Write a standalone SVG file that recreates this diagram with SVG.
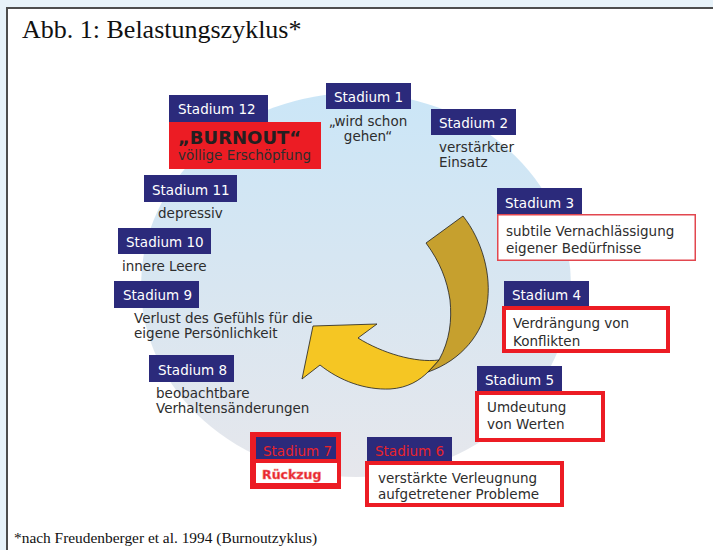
<svg xmlns="http://www.w3.org/2000/svg" width="713" height="550" viewBox="0 0 713 550">
<defs>
<linearGradient id="bgcirc" x1="0" y1="0" x2="0" y2="1">
<stop offset="0" stop-color="#cbe6f7"/>
<stop offset="0.5" stop-color="#d8e6f1"/>
<stop offset="1" stop-color="#e6e7ec"/>
</linearGradient>
</defs>
<style>
.lbl{fill:#2b2a7b}
.lt{font-family:"DejaVu Sans",Verdana,sans-serif;font-size:13.5px;fill:#ffffff}
.lt.red{fill:#e8232b}
.tx{font-family:"DejaVu Sans",Verdana,sans-serif;font-size:13.5px;fill:#2d2d2d}
.box{fill:#ffffff;stroke:#ec1c24;stroke-width:4}
.serif{font-family:"Liberation Serif","Times New Roman",serif;fill:#111111}
</style>
<rect x="0" y="0" width="713" height="550" fill="#e7f2f9"/>
<rect x="7" y="8" width="720" height="560" fill="#ffffff" stroke="#4d4d4d" stroke-width="2"/>
<text class="serif" x="22" y="38" font-size="26">Abb. 1: Belastungszyklus*</text>
<ellipse cx="356" cy="285" rx="215" ry="192" fill="url(#bgcirc)"/>

<g id="connectors">
<path d="M463,216 C482,240 492,275 487,305 C483,333 462,360 428,372 L439,360 C450,340 452,320 450,300 C447,280 440,262 426,243 Z" fill="#c6a02e" stroke="#1e1e1e" stroke-width="0.8" stroke-linejoin="round"/>
<path d="M439,360 C415,363 382,353 358,338 L377,324 L313,326 L302,379 L320,365 C340,381 365,390 390,389 C408,388 420,380 428,372 Z" fill="#f5c623" stroke="#1e1e1e" stroke-width="0.8" stroke-linejoin="round"/>
</g>

<g id="stadium1">
<rect class="lbl" x="326" y="83" width="85" height="26"/>
<text class="lt" x="334" y="102">Stadium 1</text>
<text class="tx" x="368" y="126" text-anchor="middle">„wird schon</text>
<text class="tx" x="368" y="141" text-anchor="middle">gehen“</text>
</g>

<g id="stadium2">
<rect class="lbl" x="431" y="109" width="85" height="26"/>
<text class="lt" x="439" y="128">Stadium 2</text>
<text class="tx" x="439" y="152">verstärkter</text>
<text class="tx" x="439" y="167">Einsatz</text>
</g>

<g id="stadium3">
<rect class="lbl" x="497" y="188" width="85" height="26"/>
<text class="lt" x="505" y="208">Stadium 3</text>
<rect x="497.75" y="214.75" width="197.5" height="45.5" fill="#ffffff" stroke="#e2474f" stroke-width="1.5"/>
<text class="tx" x="506" y="236">subtile Vernachlässigung</text>
<text class="tx" x="506" y="253">eigener Bedürfnisse</text>
</g>

<g id="stadium4">
<rect class="lbl" x="504" y="281" width="85" height="25"/>
<text class="lt" x="512" y="300">Stadium 4</text>
<rect class="box" x="504" y="308" width="164" height="43"/>
<text class="tx" x="513" y="328">Verdrängung von</text>
<text class="tx" x="513" y="346">Konflikten</text>
</g>

<g id="stadium5">
<rect class="lbl" x="477" y="366" width="85" height="25"/>
<text class="lt" x="485" y="385">Stadium 5</text>
<rect class="box" x="477" y="393" width="126" height="47"/>
<text class="tx" x="487" y="412">Umdeutung</text>
<text class="tx" x="487" y="429">von Werten</text>
</g>

<g id="stadium6">
<rect class="lbl" x="367" y="437" width="85" height="24"/>
<text class="lt red" x="375" y="456">Stadium 6</text>
<rect class="box" x="367" y="463" width="195" height="42"/>
<text class="tx" x="378" y="483">verstärkte Verleugnung</text>
<text class="tx" x="378" y="499">aufgetretener Probleme</text>
</g>

<g id="stadium7">
<rect x="250" y="432" width="91" height="57" fill="#ec1c24"/>
<rect class="lbl" x="256" y="437" width="80" height="22"/>
<text class="lt red" x="263" y="456">Stadium 7</text>
<rect x="256" y="463" width="81" height="20" fill="#ffffff"/>
<text x="262" y="479" font-family="'DejaVu Sans',Verdana,sans-serif" font-size="12.5" font-weight="bold" fill="#e8232b" stroke="#f07070" stroke-width="0.5">Rückzug</text>
</g>

<g id="stadium8">
<rect class="lbl" x="149" y="355" width="85" height="27"/>
<text class="lt" x="158" y="375">Stadium 8</text>
<text class="tx" x="156" y="398">beobachtbare</text>
<text class="tx" x="156" y="413">Verhaltensänderungen</text>
</g>

<g id="stadium9">
<rect class="lbl" x="114" y="281" width="85" height="27"/>
<text class="lt" x="123" y="300">Stadium 9</text>
<text class="tx" x="134" y="323">Verlust des Gefühls für die</text>
<text class="tx" x="134" y="338">eigene Persönlichkeit</text>
</g>

<g id="stadium10">
<rect class="lbl" x="118" y="228" width="93" height="26"/>
<text class="lt" x="126" y="247">Stadium 10</text>
<text class="tx" x="122" y="271">innere Leere</text>
</g>

<g id="stadium11">
<rect class="lbl" x="144" y="175" width="93" height="27"/>
<text class="lt" x="152" y="195">Stadium 11</text>
<text class="tx" x="158" y="218">depressiv</text>
</g>

<g id="stadium12">
<rect class="lbl" x="169" y="95" width="99" height="27"/>
<text class="lt" x="178" y="114">Stadium 12</text>
<rect x="169" y="122" width="152" height="47" fill="#ec1c24"/>
<text x="178" y="144" font-family="'DejaVu Sans',Verdana,sans-serif" font-size="18" font-weight="bold" fill="#231f20">„BURNOUT“</text>
<text class="tx" x="178" y="160" fill="#231f20">völlige Erschöpfung</text>
</g>

<text class="serif" x="14" y="543" font-size="15.4">*nach Freudenberger et al. 1994 (Burnoutzyklus)</text>
</svg>
